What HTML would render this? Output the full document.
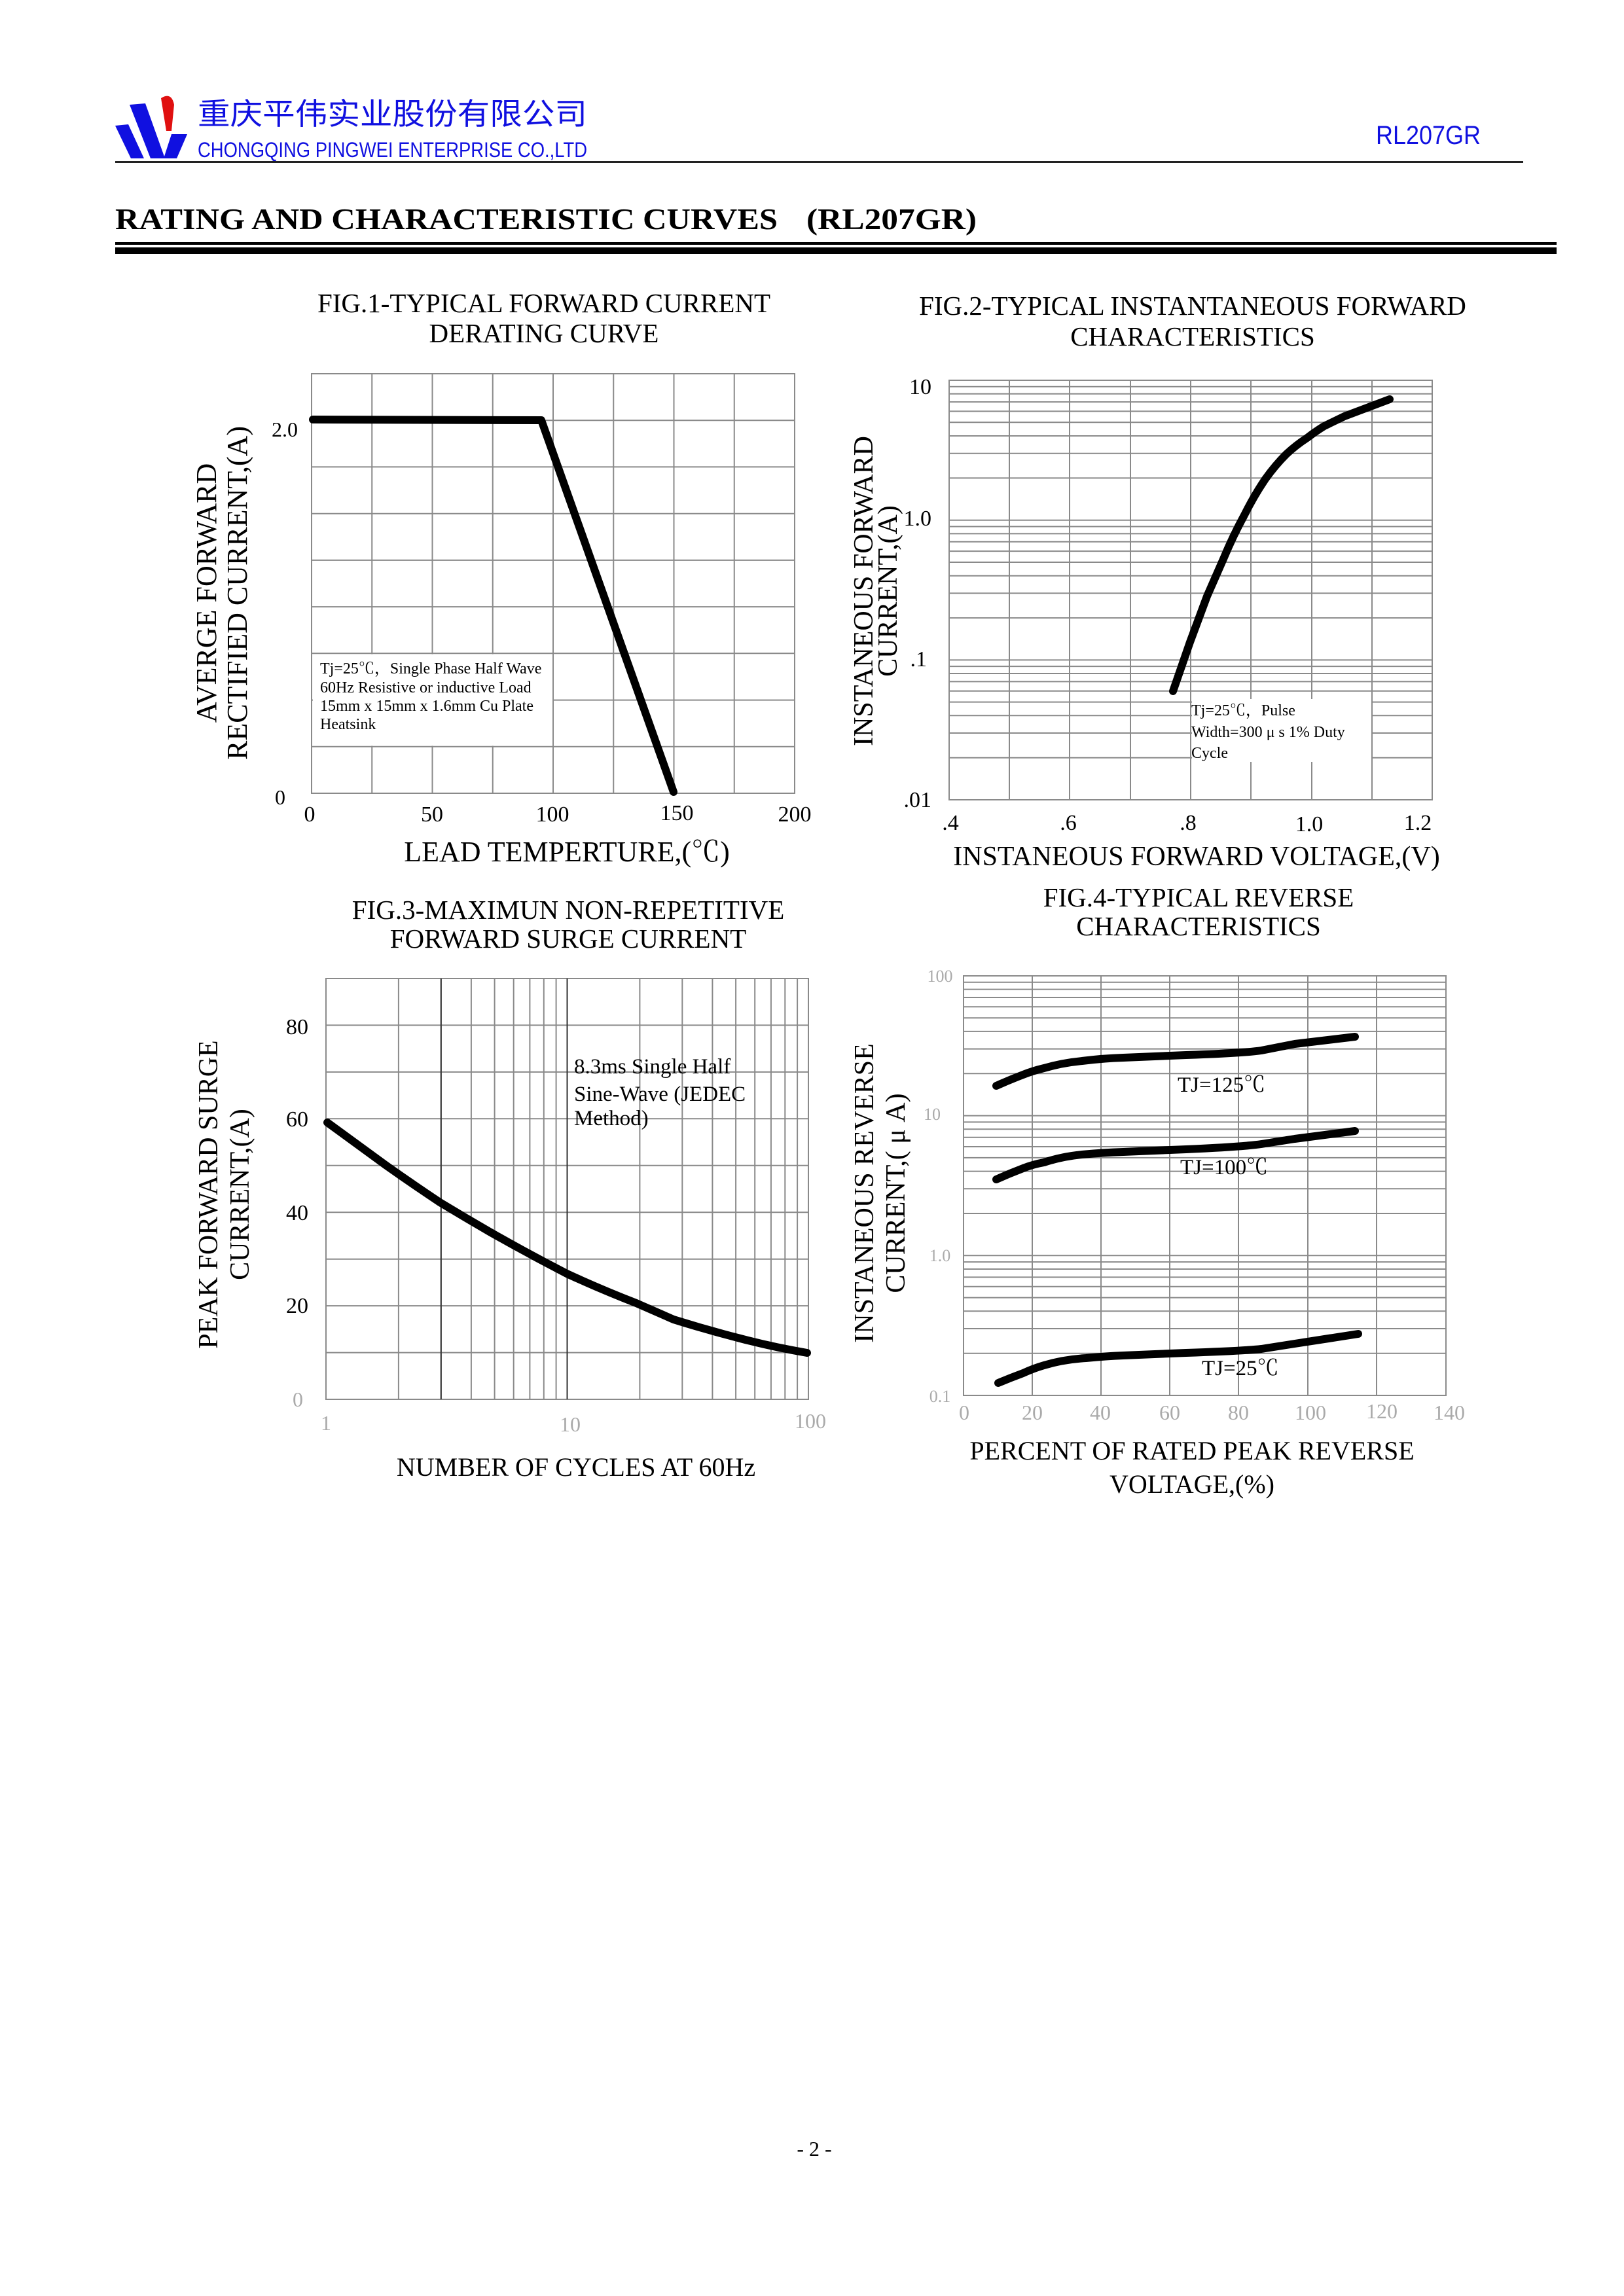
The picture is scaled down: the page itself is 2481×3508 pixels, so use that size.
<!DOCTYPE html>
<html><head><meta charset="utf-8"><style>
html,body{margin:0;padding:0;background:#fff;}
svg{display:block;}
text{font-family:"Liberation Serif","Noto Serif CJK SC",serif;fill:#000;}
.s{font-family:"Liberation Sans","Noto Sans CJK SC",sans-serif;}
.g{stroke:#8a8a8a;stroke-width:2;fill:none;}
.c{stroke:#000;stroke-width:12;fill:none;stroke-linecap:round;stroke-linejoin:round;}
</style></head><body>
<svg width="2481" height="3508" viewBox="0 0 2481 3508" xmlns="http://www.w3.org/2000/svg">
<rect width="2481" height="3508" fill="#fff"/>
<!-- Header -->
<polygon points="176,192 196,190 220,242 200,242" fill="#1010e0"/>
<polygon points="198,160 222,158 252,242 230,242" fill="#1010e0"/>
<polygon points="262,205 286,205 270,242 250,242" fill="#1010e0"/>
<path d="M246,150 Q262,140 266,160 L262,200 L254,200 Z" fill="#e01010"/>
<text x="302" y="190" style="font-family:'Noto Sans CJK SC',sans-serif;fill:#1010e0" font-size="46" textLength="595" lengthAdjust="spacingAndGlyphs">重庆平伟实业股份有限公司</text>
<text class="s" x="302" y="240" style="fill:#1010e0" font-size="32" textLength="595" lengthAdjust="spacingAndGlyphs">CHONGQING PINGWEI ENTERPRISE CO.,LTD</text>
<text class="s" x="2102" y="220" style="fill:#1010e0" font-size="40" textLength="160" lengthAdjust="spacingAndGlyphs">RL207GR</text>
<rect x="176" y="246" width="2151" height="3" fill="#222"/>
<text x="176" y="350" font-size="46" font-weight="bold" textLength="1012" lengthAdjust="spacingAndGlyphs">RATING AND CHARACTERISTIC CURVES</text>
<text x="1232" y="350" font-size="46" font-weight="bold" textLength="260" lengthAdjust="spacingAndGlyphs">(RL207GR)</text>
<rect x="176" y="370" width="2202" height="4" fill="#000"/>
<rect x="176" y="378" width="2202" height="10" fill="#000"/>

<!-- FIG 1 -->
<text x="831" y="477" font-size="41" text-anchor="middle">FIG.1-TYPICAL FORWARD CURRENT</text>
<text x="831" y="523" font-size="41" text-anchor="middle">DERATING CURVE</text>
<g class="g">
<path d="M568.25,571V1212M660.5,571V1212M752.75,571V1212M845,571V1212M937.25,571V1212M1029.5,571V1212M1121.75,571V1212"/>
<path d="M476,642.2H1214M476,713.4H1214M476,784.7H1214M476,855.9H1214M476,927.1H1214M476,998.3H1214M476,1069.6H1214M476,1140.8H1214"/>
<rect x="476" y="571" width="738" height="641"/>
</g>
<rect x="478" y="999.5" width="366" height="140" fill="#fff"/>
<text x="489" y="1029" font-size="24">Tj=25℃，Single Phase Half Wave</text>
<text x="489" y="1058" font-size="24">60Hz Resistive or inductive Load</text>
<text x="489" y="1086" font-size="24">15mm x 15mm x 1.6mm Cu Plate</text>
<text x="489" y="1114" font-size="24">Heatsink</text>
<polyline class="c" points="478,641 827,642 1029,1210"/>
<text x="455" y="667" font-size="32" text-anchor="end">2.0</text>
<text x="436" y="1229" font-size="32" text-anchor="end">0</text>
<g font-size="34" text-anchor="middle">
<text x="473" y="1255">0</text><text x="660" y="1255">50</text><text x="844" y="1255">100</text><text x="1034" y="1253">150</text><text x="1214" y="1255">200</text>
</g>
<text x="866" y="1316" font-size="44" text-anchor="middle">LEAD  TEMPERTURE,(℃)</text>
<text transform="translate(330,906) rotate(-90)" font-size="44" text-anchor="middle">AVERGE FORWARD</text>
<text transform="translate(377,906) rotate(-90)" font-size="44" text-anchor="middle">RECTIFIED CURRENT,(A)</text>

<!-- FIG 2 -->
<text x="1822" y="481" font-size="41" text-anchor="middle">FIG.2-TYPICAL INSTANTANEOUS FORWARD</text>
<text x="1822" y="528" font-size="41" text-anchor="middle">CHARACTERISTICS</text>
<g class="g">
<path d="M1542,581V1222M1634,581V1222M1727,581V1222M1819,581V1222M1911,581V1222M2004,581V1222M2096,581V1222"/>
<path d="M1450,794.7H2188M1450,1008.4H2188"/>
<path d="M1450,730.4H2188M1450,692.7H2188M1450,666H2188M1450,645.3H2188M1450,628.4H2188M1450,614.1H2188M1450,601.7H2188M1450,590.8H2188"/>
<path d="M1450,944.1H2188M1450,906.4H2188M1450,879.7H2188M1450,859H2188M1450,842.1H2188M1450,827.8H2188M1450,815.4H2188M1450,804.5H2188"/>
<path d="M1450,1157.7H2188M1450,1120H2188M1450,1093.3H2188M1450,1072.6H2188M1450,1055.7H2188M1450,1041.4H2188M1450,1029H2188M1450,1018.1H2188"/>
<rect x="1450" y="581" width="738" height="641"/>
</g>
<rect x="1821" y="1068" width="274" height="96" fill="#fff"/>
<text x="1820" y="1093" font-size="24">Tj=25℃，Pulse</text>
<text x="1820" y="1126" font-size="24">Width=300 μ s 1% Duty</text>
<text x="1820" y="1158" font-size="24">Cycle</text>
<path class="c" d="M1792,1056 L1818,981 L1844,911 L1869,854 Q1884,818 1901,787 Q1916,757 1933,732 Q1948,711 1965,694 Q1980,680 1997,669 Q2010,659 2023,651 L2054,636 L2123,610"/>
<g font-size="34" text-anchor="end">
<text x="1423" y="602">10</text><text x="1423" y="803">1.0</text><text x="1416" y="1018">.1</text><text x="1423" y="1233">.01</text>
</g>
<g font-size="34" text-anchor="middle">
<text x="1452" y="1268">.4</text><text x="1632" y="1268">.6</text><text x="1815" y="1268">.8</text><text x="2000" y="1270">1.0</text><text x="2166" y="1268">1.2</text>
</g>
<text x="1828" y="1322" font-size="42" text-anchor="middle">INSTANEOUS FORWARD VOLTAGE,(V)</text>
<text transform="translate(1333,903) rotate(-90)" font-size="42" text-anchor="middle">INSTANEOUS FORWARD</text>
<text transform="translate(1370,903) rotate(-90)" font-size="42" text-anchor="middle">CURRENT,(A)</text>

<!-- FIG 3 -->
<text x="868" y="1404" font-size="41" text-anchor="middle">FIG.3-MAXIMUN NON-REPETITIVE</text>
<text x="868" y="1448" font-size="41" text-anchor="middle">FORWARD SURGE CURRENT</text>
<g class="g">
<path d="M608.9,1495V2138M673.8,1495V2138M719.9,1495V2138M755.6,1495V2138M784.7,1495V2138M809.4,1495V2138M830.8,1495V2138M849.6,1495V2138M866.5,1495V2138"/>
<path d="M977.4,1495V2138M1042.3,1495V2138M1088.4,1495V2138M1124.1,1495V2138M1153.2,1495V2138M1177.9,1495V2138M1199.3,1495V2138M1218.1,1495V2138"/>
<path d="M498,1566.4H1235M498,1637.9H1235M498,1709.3H1235M498,1780.8H1235M498,1852.2H1235M498,1923.7H1235M498,1995.1H1235M498,2066.6H1235"/>
<rect x="498" y="1495" width="737" height="643"/>
</g>
<path d="M673.8,1495V2138M866.5,1495V2138" stroke="#333" stroke-width="2"/>
<text x="877" y="1640" font-size="33">8.3ms Single Half</text>
<text x="877" y="1682" font-size="33">Sine-Wave (JEDEC</text>
<text x="877" y="1719" font-size="33">Method)</text>
<path class="c" d="M500,1715 Q545,1748 589,1780 Q630,1809 672,1837 Q710,1860 748,1882 Q806,1915 866,1946 Q918,1970 972,1991 L1029,2016 Q1080,2032 1131,2045 Q1180,2058 1233,2067"/>
<g font-size="34" text-anchor="end">
<text x="471" y="1580">80</text><text x="471" y="1721">60</text><text x="471" y="1864">40</text><text x="471" y="2006">20</text>
</g>
<g class="s" font-size="32" text-anchor="middle">
<text x="455" y="2149" style="fill:#aaa">0</text>
<text x="498" y="2185" style="fill:#aaa">1</text><text x="871" y="2187" style="fill:#aaa">10</text><text x="1238" y="2182" style="fill:#aaa">100</text>
</g>
<text x="880" y="2255" font-size="40" text-anchor="middle">NUMBER OF CYCLES AT 60Hz</text>
<text transform="translate(332,1825) rotate(-90)" font-size="42" text-anchor="middle">PEAK FORWARD SURGE</text>
<text transform="translate(380,1825) rotate(-90)" font-size="42" text-anchor="middle">CURRENT,(A)</text>

<!-- FIG 4 -->
<text x="1831" y="1385" font-size="41" text-anchor="middle">FIG.4-TYPICAL REVERSE</text>
<text x="1831" y="1429" font-size="41" text-anchor="middle">CHARACTERISTICS</text>
<g class="g">
<path d="M1577,1491V2132M1682,1491V2132M1787,1491V2132M1892,1491V2132M1998,1491V2132M2103,1491V2132"/>
<path d="M1472,1704.6H2209M1472,1918.3H2209"/>
<path d="M1472,1640.3H2209M1472,1602.6H2209M1472,1575.9H2209M1472,1555.2H2209M1472,1538.3H2209M1472,1524H2209M1472,1511.6H2209M1472,1500.7H2209"/>
<path d="M1472,1854H2209M1472,1816.3H2209M1472,1789.6H2209M1472,1768.9H2209M1472,1752H2209M1472,1737.7H2209M1472,1725.3H2209M1472,1714.4H2209"/>
<path d="M1472,2067.7H2209M1472,2030H2209M1472,2003.3H2209M1472,1982.6H2209M1472,1965.7H2209M1472,1951.4H2209M1472,1939H2209M1472,1928.1H2209"/>
<rect x="1472" y="1491" width="737" height="641"/>
</g>
<path class="c" d="M1522,1659 Q1542,1650 1563,1642 Q1578,1636 1595,1632 Q1622,1624 1653,1621 Q1685,1617 1716,1616 L1812,1612 Q1900,1609 1927,1605 L1978,1595 L2070,1584"/>
<path class="c" d="M1522,1802 Q1542,1793 1563,1785 Q1578,1779 1595,1776 Q1622,1767 1653,1764 Q1685,1761 1716,1760 L1812,1756 Q1900,1752 1927,1748 L1978,1740 L2070,1728"/>
<path class="c" d="M1525,2113 Q1544,2105 1563,2098 Q1578,2091 1595,2086 Q1625,2077 1659,2075 Q1690,2072 1716,2071 L1812,2067 Q1900,2064 1927,2061 L1978,2053 L2075,2038"/>
<text x="1799" y="1668" font-size="33">TJ=125℃</text>
<text x="1803" y="1794" font-size="33">TJ=100℃</text>
<text x="1836" y="2101" font-size="33">TJ=25℃</text>
<g class="s" font-size="26" text-anchor="middle">
<text x="1436" y="1500" style="fill:#aaa">100</text><text x="1424" y="1711" style="fill:#aaa">10</text><text x="1436" y="1927" style="fill:#aaa">1.0</text><text x="1436" y="2142" style="fill:#aaa">0.1</text>
</g>
<g class="s" font-size="32" text-anchor="middle">
<text x="1473" y="2169" style="fill:#aaa">0</text>
<text x="1577" y="2169" style="fill:#aaa">20</text><text x="1681" y="2169" style="fill:#aaa">40</text><text x="1787" y="2169" style="fill:#aaa">60</text><text x="1892" y="2169" style="fill:#aaa">80</text><text x="2002" y="2169" style="fill:#aaa">100</text><text x="2111" y="2167" style="fill:#aaa">120</text><text x="2214" y="2169" style="fill:#aaa">140</text>
</g>
<text x="1821" y="2230" font-size="40" text-anchor="middle">PERCENT OF RATED PEAK REVERSE</text>
<text x="1821" y="2281" font-size="40" text-anchor="middle">VOLTAGE,(%)</text>
<text transform="translate(1334,1823) rotate(-90)" font-size="42" text-anchor="middle">INSTANEOUS REVERSE</text>
<text transform="translate(1382,1823) rotate(-90)" font-size="42" text-anchor="middle">CURRENT,( μ A)</text>

<text x="1244" y="3294" font-size="32" text-anchor="middle">- 2 -</text>
</svg>
</body></html>
